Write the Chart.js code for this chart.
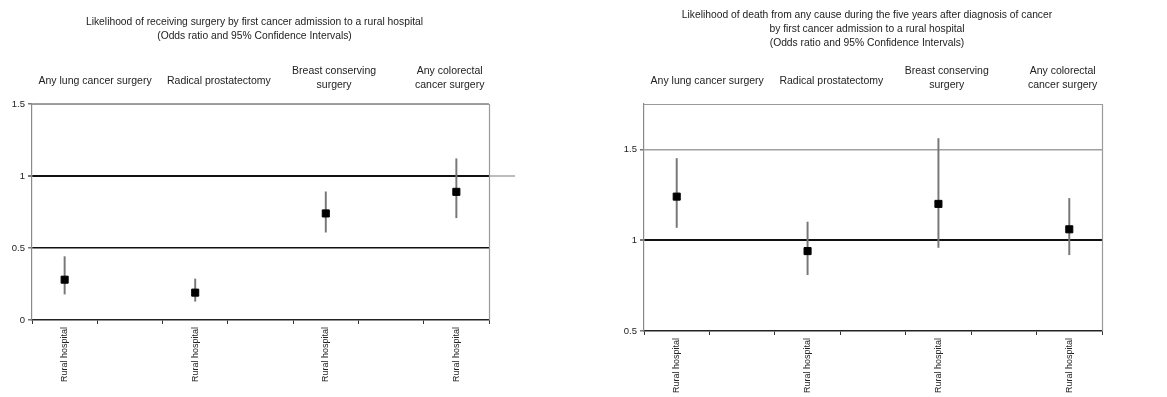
<!DOCTYPE html>
<html><head><meta charset="utf-8">
<script src="https://cdn.jsdelivr.net/npm/chart.js@4/dist/chart.umd.min.js"></script>
<style>
html,body{margin:0;padding:0;background:#fff;}
.box{position:absolute;top:0;height:397px;}
</style></head>
<body>
<div class="box" style="left:0;width:580px"><canvas id="c1"></canvas></div>
<div class="box" style="left:580px;width:587px"><canvas id="c2"></canvas></div>
<script>
// ---- data ----
const headers = [['Any lung cancer surgery'], ['Radical prostatectomy'], ['Breast conserving', 'surgery'], ['Any colorectal', 'cancer surgery']];
const groupLabel = 'Rural hospital';
const surgeryTitle = ['Likelihood of receiving surgery by first cancer admission to a rural hospital', '(Odds ratio and 95% Confidence Intervals)'];
const surgeryOR   = [0.28, 0.19, 0.74, 0.89];
const surgeryLow  = [0.18, 0.13, 0.61, 0.71];
const surgeryHigh = [0.44, 0.285, 0.89, 1.12];
const deathTitle = ['Likelihood of death from any cause during the five years after diagnosis of cancer', 'by first cancer admission to a rural hospital', '(Odds ratio and 95% Confidence Intervals)'];
const deathOR   = [1.24, 0.94, 1.20, 1.06];
const deathLow  = [1.07, 0.81, 0.96, 0.92];
const deathHigh = [1.45, 1.10, 1.56, 1.23];
const surgeryTicks = [0, 0.5, 1, 1.5];
const deathTicks = [0.5, 1, 1.5];

// spread 4 groups into 7 slots (empty slots between)
function spread(arr) { const out = []; arr.forEach((v, i) => { if (i) out.push(null); out.push(v); }); return out; }
const slotLabels = spread(headers.map(() => groupLabel)).map(v => v || '');

const FONT = '"Liberation Sans", Arial, sans-serif';

const decor = {
  id: 'decor',
  afterDraw(chart) {
    const o = chart.options.plugins.decor;
    const {ctx, chartArea: a} = chart;
    ctx.save();
    ctx.strokeStyle = '#9a9a9a'; ctx.lineWidth = 1.2;
    ctx.beginPath();
    ctx.moveTo(a.left, a.top + 0.5); ctx.lineTo(a.right + 1, a.top + 0.5);
    ctx.moveTo(a.right + 0.5, a.top); ctx.lineTo(a.right + 0.5, a.bottom);
    ctx.stroke();
    if (o.extendOne) {
      const y = chart.scales.y.getPixelForValue(1);
      ctx.strokeStyle = '#bdbdbd'; ctx.lineWidth = 2;
      ctx.beginPath(); ctx.moveTo(a.right + 1, y); ctx.lineTo(a.right + 26, y); ctx.stroke();
    }
    ctx.fillStyle = '#222'; ctx.textAlign = 'center'; ctx.textBaseline = 'middle';
    ctx.font = '10.3px ' + FONT;
    const cx = (a.left + a.right) / 2 - 6;
    o.title.forEach((t, i) => ctx.fillText(t, cx, o.titleTop + i * 14));
    ctx.font = '10.5px ' + FONT;
    const fr = [0.138, 0.409, 0.661, 0.914];
    o.headers.forEach((lines, i) => {
      const x = a.left + fr[i] * (a.right - a.left);
      const y0 = lines.length === 1 ? a.top - 23 : a.top - 33;
      lines.forEach((t, j) => ctx.fillText(t, x, y0 + j * 14));
    });
    ctx.restore();
  }
};

function makeChart(id, cfg) {
  const bars = spread(cfg.low.map((l, i) => [l, cfg.high[i]]));
  const pts = spread(cfg.or);
  return new Chart(document.getElementById(id), {
    data: {
      labels: slotLabels,
      datasets: [
        { type: 'line', data: pts, showLine: false, pointStyle: 'rect', pointRadius: 5, pointHoverRadius: 5,
          pointBackgroundColor: '#000', pointBorderColor: '#000', pointBorderWidth: 1, order: 0 },
        { type: 'bar', data: bars, backgroundColor: '#777777', barThickness: 1.3, borderWidth: 0, order: 1 }
      ]
    },
    options: {
      responsive: true, maintainAspectRatio: false, animation: false,
      layout: { padding: { left: 0, right: cfg.padRight, top: cfg.padTop, bottom: 0 } },
      plugins: {
        legend: { display: false }, tooltip: { enabled: false },
        decor: { title: cfg.title, titleTop: cfg.titleTop, headers: headers, extendOne: cfg.extendOne }
      },
      scales: {
        x: {
          offset: true,
          grid: { display: true, offset: true, drawOnChartArea: false, drawTicks: true, tickLength: 4, color: '#333', tickColor: '#333' },
          border: { display: true, color: '#222', width: 1.5 },
          ticks: { autoSkip: false, minRotation: 90, maxRotation: 90, padding: 3, color: '#222', font: { family: FONT, size: 9 } },
          afterFit: s => { s.height = cfg.xHeight; }
        },
        y: {
          min: cfg.min, max: cfg.max,
          afterBuildTicks: s => { s.ticks = cfg.ticks.map(v => ({ value: v })); },
          grid: {
            tickLength: 4, tickColor: '#777',
            color: c => {
              const v = c.tick ? c.tick.value : null;
              if (v === cfg.min) return 'rgba(0,0,0,0)';
              if (v === 1.5) return '#a0a0a0';
              return '#111';
            },
            lineWidth: c => (c.tick && c.tick.value === 1) ? 2 : 1.5
          },
          border: { display: true, color: '#8a8a8a', width: 1.2 },
          ticks: { padding: 3, color: '#222', font: { family: FONT, size: 9.5 }, callback: v => String(v) },
          afterFit: s => { s.width = cfg.yWidth; }
        }
      }
    },
    plugins: [decor]
  });
}

makeChart('c1', { or: surgeryOR, low: surgeryLow, high: surgeryHigh, min: 0, max: 1.5, ticks: surgeryTicks,
  title: surgeryTitle, titleTop: 22, padTop: 104, padRight: 91, xHeight: 77, yWidth: 32, extendOne: true });
makeChart('c2', { or: deathOR, low: deathLow, high: deathHigh, min: 0.5, max: 1.75, ticks: deathTicks,
  title: deathTitle, titleTop: 15, padTop: 104, padRight: 65, xHeight: 66, yWidth: 64, extendOne: false });
</script>
</body></html>
